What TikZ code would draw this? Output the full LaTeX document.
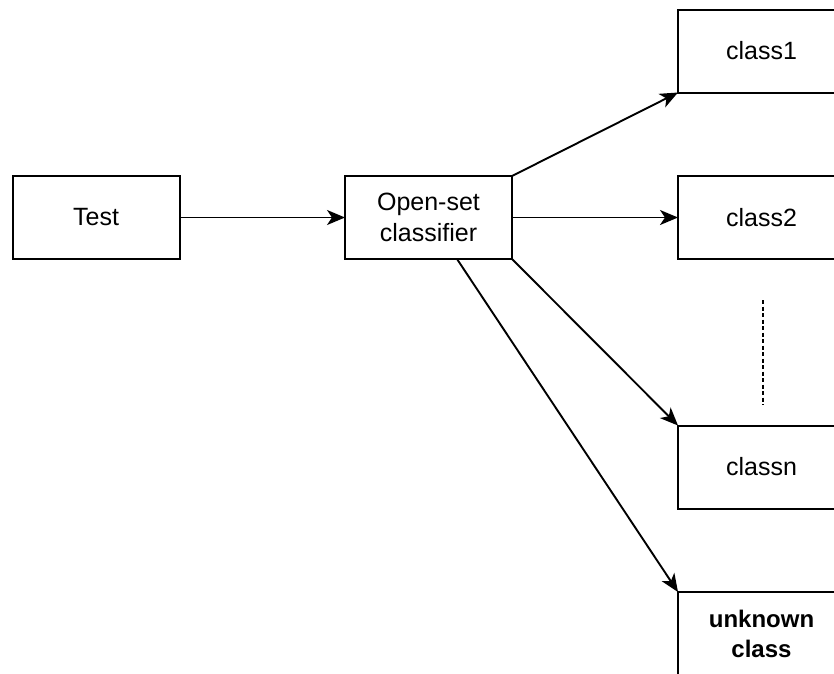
\documentclass[tikz,border=0pt]{standalone}
\usepackage{fontspec}
\setmainfont{Liberation Sans}
\usetikzlibrary{arrows.meta}
\begin{document}
\begin{tikzpicture}[x=1pt,y=-1pt,
  box/.style={draw=black, line width=2pt, fill=white, rectangle,
    minimum width=167pt, minimum height=83pt, inner sep=0pt, outer sep=0pt,
    align=center, font=\fontsize{25}{31}\selectfont},
  link/.style={draw=black, line width=1.9pt, -{Stealth[length=18pt,width=15pt,inset=5pt]}}]
  \useasboundingbox (0,0) rectangle (834,673);
  \clip (0,0) rectangle (834,673);

  % input and classifier
  \node[box] (test) at (96,217.5) {Test};
  \node[box] (clf) at (428.5,217.5) {Open-set\\classifier};

  % output classes
  \node[box] (c1) at (761.5,51) {class1};
  \node[box] (c2) at (761.5,217.5) {class2};
  \node[box] (cn) at (761.5,467) {classn};
  \node[box, font=\fontsize{24}{30}\selectfont\bfseries] (unk) at (761.5,633.5) {unknown\\class};

  % points where the lines leave the classifier, and the ellipsis ends
  \coordinate (clfout) at (457,259);
  \coordinate (dotstop) at (763,300);
  \coordinate (dotsbot) at (763,405);

  % connectors
  \draw[link] (test.east) -- (clf.west);
  \draw[link] (clf.north east) -- (c1.south west);
  \draw[link] (clf.east) -- (c2.west);
  \draw[link] (clf.south east) -- (cn.north west);
  \draw[link] (clfout) -- (unk.north west);

  % vertical ellipsis between class2 and classn
  \draw[line width=1.6pt, dash pattern=on 4pt off 2.5pt] (dotstop) -- (dotsbot);
\end{tikzpicture}
\end{document}
